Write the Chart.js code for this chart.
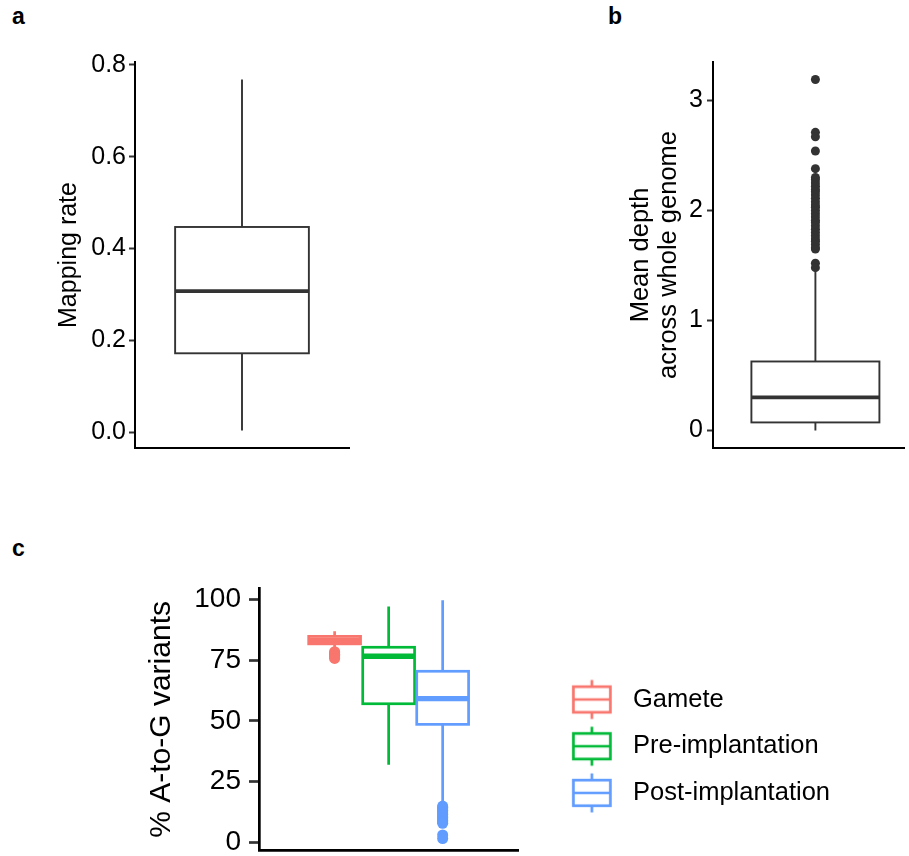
<!DOCTYPE html>
<html>
<head>
<meta charset="utf-8">
<script src="https://cdn.jsdelivr.net/npm/chart.js@4.4.1/dist/chart.umd.min.js"></script>
<style>
  html, body { margin: 0; padding: 0; background: #fff; overflow: hidden; }
  body { width: 909px; height: 856px; position: relative; font-family: "Liberation Sans", Arial, sans-serif; }
  .panel { position: absolute; }
  .tag { position: absolute; font-weight: bold; font-size: 23px; line-height: 23px; color: #000; }
</style>
</head>
<body>
<div class="tag" style="left:12px;top:5px">a</div>
<div class="tag" style="left:608px;top:5px">b</div>
<div class="tag" style="left:12px;top:537px">c</div>
<div class="panel" style="left:0;top:0;width:360px;height:460px"><canvas id="chartA"></canvas></div>
<div class="panel" style="left:460px;top:0;width:449px;height:460px"><canvas id="chartB"></canvas></div>
<div class="panel" style="left:0;top:540px;width:909px;height:316px"><canvas id="chartC"></canvas></div>
<script>
// ---- data (box stats are: lower whisker, Q1, median, Q3, upper whisker) ----
// a: mapping rate
const statsA = [0.004, 0.172, 0.3075, 0.447, 0.768];
const ticksA = [0, 0.2, 0.4, 0.6, 0.8];

// b: mean depth
const statsB = [0.0, 0.073, 0.30, 0.627, 1.44];
const outliersB = [3.19, 2.71, 2.67, 2.54, 2.38, 2.30, 2.28, 2.25, 2.22, 2.19, 2.17, 2.14, 2.11,
  2.08, 2.05, 2.03, 2.00, 1.97, 1.94, 1.91, 1.89, 1.86, 1.83, 1.80, 1.77, 1.74, 1.72, 1.69, 1.66,
  1.65, 1.52, 1.48];
const ticksB = [0, 1, 2, 3];

// c: % A-to-G variants
const groupsC = ['Gamete', 'Pre-implantation', 'Post-implantation'];
const colorsC = ['#F8766D', '#00BA38', '#619CFF'];
const statsGamete = [80.5, 81.8, 83.3, 84.9, 87.0];
const statsPre = [31.9, 57.1, 76.7, 80.4, 97.2];
const statsPost = [16.0, 48.6, 59.2, 70.5, 99.8];
const outGamete = [78.6, 78.1, 77.5, 77.0, 76.4, 75.8];
const outPre = [];
const outPost = [14.9, 14.4, 13.8, 13.2, 12.6, 12.0, 11.4, 10.8, 10.2, 9.6, 9.0, 8.4, 7.8, 3.0, 1.5];
const ticksC = [0, 25, 50, 75, 100];

const FONT = '"Liberation Sans", Arial, Helvetica, sans-serif';
Chart.defaults.font.family = FONT;
Chart.defaults.color = '#000';

// ggplot style 5% expansion of the data range
function expand(values) {
  const lo = Math.min(...values), hi = Math.max(...values);
  const pad = (hi - lo) * 0.05;
  return { min: lo - pad, max: hi + pad };
}

// draws whiskers, box and median through the chart scales
function boxPlugin(boxes, lw) {
  return {
    id: 'boxes',
    afterDatasetsDraw(chart) {
      const { ctx, scales: { x, y } } = chart;
      boxes.forEach(b => {
        const [lo, q1, med, q3, hi] = b.stats;
        const cx = x.getPixelForValue(b.x);
        const x0 = x.getPixelForValue(b.x - b.half);
        const x1 = x.getPixelForValue(b.x + b.half);
        const yt = y.getPixelForValue(q3), yb = y.getPixelForValue(q1), ym = y.getPixelForValue(med);
        ctx.save();
        ctx.strokeStyle = b.color;
        ctx.lineWidth = lw;
        ctx.beginPath();
        ctx.moveTo(cx, y.getPixelForValue(hi)); ctx.lineTo(cx, yt);
        ctx.moveTo(cx, yb); ctx.lineTo(cx, y.getPixelForValue(lo));
        ctx.stroke();
        ctx.fillStyle = '#fff';
        ctx.fillRect(x0, yt, x1 - x0, yb - yt);
        ctx.strokeRect(x0, yt, x1 - x0, yb - yt);
        ctx.lineWidth = lw * 2;
        ctx.beginPath(); ctx.moveTo(x0, ym); ctx.lineTo(x1, ym); ctx.stroke();
        ctx.restore();
      });
    }
  };
}

function xAxis(max, lw) {
  return {
    type: 'linear', min: 0.4, max: max,
    ticks: { display: false },
    grid: { display: true, drawOnChartArea: false, drawTicks: false },
    border: { display: true, color: '#000', width: lw },
    afterFit(s) { s.height = 0; s.paddingLeft = 0; s.paddingRight = 0; }
  };
}

function yAxis(range, tickVals, width, fmt, fontSize, title, lw, tickLen, pad) {
  return {
    type: 'linear', min: range.min, max: range.max,
    afterBuildTicks(s) { s.ticks = tickVals.map(v => ({ value: v })); },
    afterFit(s) { s.width = width; s.paddingTop = 0; s.paddingBottom = 0; },
    ticks: { autoSkip: false, color: '#000', padding: pad, font: { size: fontSize }, callback: fmt },
    grid: { drawOnChartArea: false, drawTicks: true, tickLength: tickLen, tickColor: '#333', tickWidth: lw },
    border: { display: true, color: '#000', width: lw },
    title: Object.assign({ display: true, color: '#000', padding: 0 }, title)
  };
}

// ---- panel a ----
new Chart(document.getElementById('chartA'), {
  type: 'scatter',
  data: { datasets: [{ data: [] }] },
  options: {
    responsive: true, maintainAspectRatio: false, animation: false,
    layout: { padding: { left: 54, top: 62, right: 11, bottom: 12 } },
    plugins: { legend: { display: false }, tooltip: { enabled: false } },
    scales: {
      x: xAxis(1.6, 2),
      y: yAxis(expand(statsA), ticksA, 81, v => v.toFixed(1), 25,
        { text: 'Mapping rate', font: { size: 25 } }, 2, 6, 3)
    }
  },
  plugins: [boxPlugin([{ x: 1, half: 0.375, stats: statsA, color: '#333333' }], 1.9)]
});

// ---- panel b ----
new Chart(document.getElementById('chartB'), {
  type: 'scatter',
  data: {
    datasets: [{
      data: outliersB.map(v => ({ x: 1, y: v })),
      pointRadius: 4.5, backgroundColor: '#333333', borderWidth: 0
    }]
  },
  options: {
    responsive: true, maintainAspectRatio: false, animation: false,
    layout: { padding: { left: 167, top: 62, right: 0, bottom: 12 } },
    plugins: { legend: { display: false }, tooltip: { enabled: false } },
    scales: {
      x: xAxis(1.522, 2),
      y: yAxis(expand(statsB.concat(outliersB)), ticksB, 86, v => String(v), 25,
        { text: ['Mean depth', 'across whole genome'], font: { size: 25.5, lineHeight: 1.1 } }, 2, 6, 4)
    }
  },
  plugins: [boxPlugin([{ x: 1, half: 0.375, stats: statsB, color: '#333333' }], 1.9)]
});

// ---- panel c ----
const statsC = [statsGamete, statsPre, statsPost];
const outC = [outGamete, outPre, outPost];
const xPosC = [0.75, 1, 1.25];

// legend key glyphs (small box plots)
const glyphs = colorsC.map(col => {
  const cv = document.createElement('canvas');
  cv.width = 66; cv.height = 44;
  const g = cv.getContext('2d');
  const cx = 45, cy = 22;
  g.strokeStyle = col; g.lineWidth = 2.7;
  g.beginPath();
  g.moveTo(cx, cy - 19.5); g.lineTo(cx, cy + 19.5);
  g.stroke();
  g.fillStyle = '#fff';
  g.fillRect(cx - 18.5, cy - 12.8, 37, 25.6);
  g.strokeRect(cx - 18.5, cy - 12.8, 37, 25.6);
  g.beginPath(); g.moveTo(cx - 18.5, cy); g.lineTo(cx + 18.5, cy); g.stroke();
  return cv;
});

new Chart(document.getElementById('chartC'), {
  type: 'scatter',
  data: {
    datasets: groupsC.map((g, i) => ({
      label: g,
      data: outC[i].map(v => ({ x: xPosC[i], y: v })),
      pointRadius: 5.5, backgroundColor: colorsC[i], borderWidth: 0
    }))
  },
  options: {
    responsive: true, maintainAspectRatio: false, animation: false,
    layout: { padding: { left: 144, top: 48.3, right: 69, bottom: 4.3 } },
    plugins: {
      tooltip: { enabled: false },
      legend: {
        display: true, position: 'right', align: 'center', maxWidth: 420,
        title: { display: true, text: '', padding: { top: 38, bottom: 0 } },
        labels: {
          usePointStyle: true, pointStyleWidth: 80.75, padding: 21.2,
          font: { size: 25.5 }, color: '#000',
          generateLabels: () => groupsC.map((g, i) => ({
            text: g, pointStyle: glyphs[i], fillStyle: colorsC[i], strokeStyle: colorsC[i],
            lineWidth: 0, hidden: false, datasetIndex: i, fontColor: '#000'
          }))
        }
      }
    },
    scales: {
      x: xAxis(1.6, 2.7),
      y: yAxis(expand([].concat(...statsC, ...outC)), ticksC, 115, v => String(v), 28,
        { text: '% A-to-G variants', font: { size: 30 } }, 2.7, 10, 8)
    }
  },
  plugins: [boxPlugin(groupsC.map((g, i) => ({ x: xPosC[i], half: 0.12, stats: statsC[i], color: colorsC[i] })), 2.7)]
});
</script>
</body>
</html>
